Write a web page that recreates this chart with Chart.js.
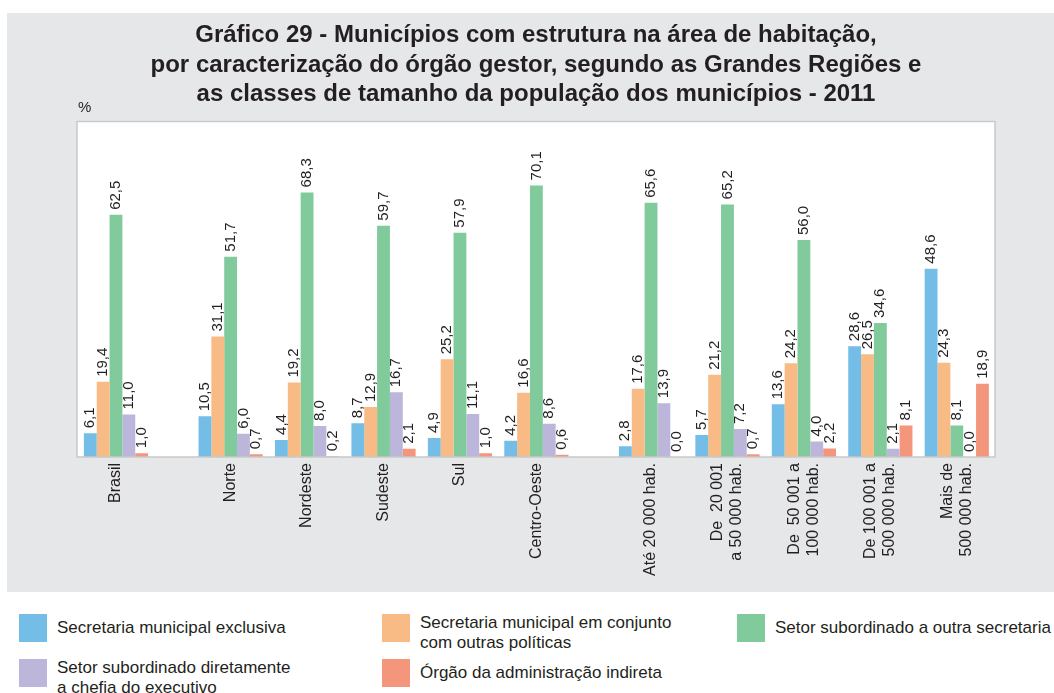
<!DOCTYPE html>
<html>
<head>
<meta charset="utf-8">
<script src="https://cdn.jsdelivr.net/npm/chart.js@4/dist/chart.umd.min.js"></script>
<style>
  body { margin: 0; background: #fff; font-family: "Liberation Sans", Arial, sans-serif; color: #231f20; }
  #panel { position: absolute; left: 7px; top: 13px; width: 1047px; height: 579px; background: #e6e7e8; }
  #legend { position: absolute; left: 0; top: 0; }
  .sw { position: absolute; width: 28px; height: 28px; }
  .lbl { position: absolute; font-size: 17px; line-height: 19.5px; white-space: nowrap; }
</style>
</head>
<body>
<div id="panel"><canvas id="chart" width="1047" height="579"></canvas></div>
<div id="legend"></div>
<script>
// categories and where they sit on the x axis (gaps between blocks)
var categories = [
  'Brasil', 'Norte', 'Nordeste', 'Sudeste', 'Sul', 'Centro-Oeste',
  'Até 20 000 hab.', ['De  20 001', 'a 50 000 hab.'], ['De  50 001 a', '100 000 hab.'],
  ['De 100 001 a', '500 000 hab.'], ['Mais de', '500 000 hab.']
];
var positions = [0, 1.5, 2.5, 3.5, 4.5, 5.5, 7, 8, 9, 10, 11];

var seriesNames = [
  'Secretaria municipal exclusiva',
  'Secretaria municipal em conjunto\ncom outras políticas',
  'Setor subordinado a outra secretaria',
  'Setor subordinado diretamente\na chefia do executivo',
  'Órgão da administração indireta'
];
var colors = ['#73bde7', '#f9bb85', '#80ca9c', '#bbb6da', '#f4967b'];

var secExclusiva  = [6.1, 10.5, 4.4, 8.7, 4.9, 4.2, 2.8, 5.7, 13.6, 28.6, 48.6];
var secConjunto   = [19.4, 31.1, 19.2, 12.9, 25.2, 16.6, 17.6, 21.2, 24.2, 26.5, 24.3];
var setorOutra    = [62.5, 51.7, 68.3, 59.7, 57.9, 70.1, 65.6, 65.2, 56.0, 34.6, 8.1];
var setorChefia   = [11.0, 6.0, 8.0, 16.7, 11.1, 8.6, 13.9, 7.2, 4.0, 2.1, 0.0];
var orgaoIndireta = [1.0, 0.7, 0.2, 2.1, 1.0, 0.6, 0.0, 0.7, 2.2, 8.1, 18.9];
var allSeries = [secExclusiva, secConjunto, setorOutra, setorChefia, orgaoIndireta];

var FONT = '"Liberation Sans", Arial, sans-serif';
var TXT = '#231f20';

var datasets = allSeries.map(function (vals, s) {
  return {
    label: seriesNames[s],
    data: vals.map(function (v, i) { return { x: positions[i], y: v }; }),
    backgroundColor: colors[s],
    borderWidth: 0,
    categoryPercentage: 0.84,
    barPercentage: 1
  };
});

var fmt = function (v) { return v.toFixed(1).replace('.', ','); };

var panelPlugin = {
  id: 'panel',
  beforeDatasetsDraw: function (chart) {
    var a = chart.chartArea, ctx = chart.ctx;
    ctx.save();
    ctx.fillStyle = '#fff';
    ctx.fillRect(a.left, a.top, a.right - a.left, a.bottom - a.top);
    ctx.restore();
  },
  afterDatasetsDraw: function (chart) {
    var a = chart.chartArea, ctx = chart.ctx;
    ctx.save();
    // value labels, vertical
    ctx.font = '15px ' + FONT;
    ctx.fillStyle = TXT;
    ctx.textAlign = 'left';
    ctx.textBaseline = 'middle';
    chart.data.datasets.forEach(function (ds, d) {
      chart.getDatasetMeta(d).data.forEach(function (bar, i) {
        ctx.save();
        ctx.translate(bar.x, bar.y - 5);
        ctx.rotate(-Math.PI / 2);
        ctx.fillText(fmt(allSeries[d][i]), 0, 0);
        ctx.restore();
      });
    });
    // frame
    ctx.strokeStyle = '#c9c9c9';
    ctx.lineWidth = 1.5;
    ctx.strokeRect(a.left, a.top, a.right - a.left, a.bottom - a.top);
    // category labels, vertical, lines centred on the group
    var xs = chart.scales.x;
    ctx.font = '16px ' + FONT;
    ctx.textAlign = 'right';
    categories.forEach(function (c, i) {
      var lines = Array.isArray(c) ? c : [c];
      var px = xs.getPixelForValue(positions[i]);
      lines.forEach(function (ln, j) {
        ctx.save();
        ctx.translate(px + (j - (lines.length - 1) / 2) * 19, a.bottom + 6);
        ctx.rotate(-Math.PI / 2);
        ctx.fillText(ln, 0, 0);
        ctx.restore();
      });
    });
    // unit
    ctx.font = '15px ' + FONT;
    ctx.textAlign = 'left';
    ctx.fillText('%', a.left + 1, a.top - 14);
    ctx.restore();
  }
};

new Chart(document.getElementById('chart'), {
  type: 'bar',
  data: { datasets: datasets },
  options: {
    responsive: false,
    animation: false,
    layout: { padding: { left: 70, right: 59, top: 0, bottom: 0 } },
    plugins: {
      legend: { display: false },
      tooltip: { enabled: false },
      title: {
        display: true,
        text: [
          'Gráfico 29 - Municípios com estrutura na área de habitação,',
          'por caracterização do órgão gestor, segundo as Grandes Regiões e',
          'as classes de tamanho da população dos municípios - 2011'
        ],
        color: TXT,
        font: { family: FONT, size: 24, weight: 'bold', lineHeight: '29.5px' },
        padding: { top: 8, bottom: 12 }
      }
    },
    scales: {
      x: {
        type: 'linear',
        min: -0.51,
        max: 11.5,
        offset: false,
        grid: { display: false, drawTicks: false },
        border: { display: false },
        ticks: { display: false },
        afterBuildTicks: function (axis) {
          axis.ticks = positions.map(function (p) { return { value: p }; });
        },
        afterFit: function (axis) { axis.height = 135; }
      },
      y: {
        display: false,
        min: 0,
        max: 86.6
      }
    }
  },
  plugins: [panelPlugin]
});

// legend below the panel
var legendSpots = [[19, 614], [382, 614], [737, 614], [19, 659], [382, 659]];
var legend = document.getElementById('legend');
seriesNames.forEach(function (name, s) {
  var lines = name.split('\n');
  var sw = document.createElement('div');
  sw.className = 'sw';
  sw.style.left = legendSpots[s][0] + 'px';
  sw.style.top = legendSpots[s][1] + 'px';
  sw.style.background = colors[s];
  legend.appendChild(sw);
  var lb = document.createElement('div');
  lb.className = 'lbl';
  lb.style.left = (legendSpots[s][0] + 38) + 'px';
  lb.style.top = (legendSpots[s][1] + (lines.length > 1 ? -1 : 4)) + 'px';
  lb.innerHTML = lines.join('<br>');
  legend.appendChild(lb);
});
</script>
</body>
</html>
